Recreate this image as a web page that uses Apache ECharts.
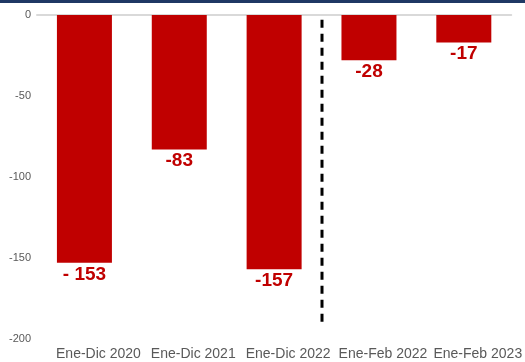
<!DOCTYPE html>
<html>
<head>
<meta charset="utf-8">
<script src="https://cdn.jsdelivr.net/npm/echarts@6/dist/echarts.min.js"></script>
<style>
  html, body { margin: 0; padding: 0; background: #fff; }
  #chart { width: 525px; height: 362px; }
</style>
</head>
<body>
<div id="chart"></div>
<script>
// categorías y valores
const categories = ['Ene-Dic 2020', 'Ene-Dic 2021', 'Ene-Dic 2022', 'Ene-Feb 2022', 'Ene-Feb 2023']
const values = [-153, -83, -157, -28, -17]
const valueLabels = ['- 153', '-83', '-157', '-28', '-17']
const yTicks = { min: -200, max: 0, interval: 50 }

const red = '#C00000'
const chart = echarts.init(document.getElementById('chart'))

chart.setOption({
  animation: false,
  grid: { left: 37, right: 12, top: 15, bottom: 23 },
  xAxis: [
    {
      type: 'category',
      data: categories,
      position: 'bottom',
      axisLine: { show: false, onZero: false },
      axisTick: { show: false },
      axisLabel: {
        interval: 0,
        hideOverlap: false,
        color: '#595959',
        fontSize: 14,
        fontFamily: 'Liberation Sans, Arial',
        margin: 8,
        padding: [0, 0, 0, 28] // etiquetas corridas a la derecha como en el original
      }
    },
    {
      // línea del cero arriba
      type: 'category',
      data: categories,
      position: 'top',
      axisLine: { show: true, onZero: false, lineStyle: { color: '#d9d9d9', width: 2 } },
      axisTick: { show: false },
      axisLabel: { show: false }
    }
  ],
  yAxis: {
    type: 'value',
    min: yTicks.min,
    max: yTicks.max,
    interval: yTicks.interval,
    axisLine: { show: false },
    axisTick: { show: false },
    splitLine: { show: false },
    axisLabel: { color: '#595959', fontSize: 11, fontFamily: 'Liberation Sans, Arial', margin: 6 }
  },
  series: [
    {
      type: 'bar',
      data: values,
      barWidth: 55,
      itemStyle: { color: red },
      label: {
        show: true,
        position: 'bottom',
        distance: 2,
        color: red,
        fontSize: 19,
        fontWeight: 'bold',
        fontFamily: 'Liberation Sans, Arial',
        formatter: p => valueLabels[p.dataIndex]
      }
    }
  ]
})

// línea punteada entre 2022 anual y los periodos Ene-Feb
const x2 = chart.convertToPixel({ xAxisIndex: 0 }, categories[2])
const x3 = chart.convertToPixel({ xAxisIndex: 0 }, categories[3])
const xMid = Math.round((x2 + x3) / 2)
const yTop = chart.convertToPixel({ yAxisIndex: 0 }, -3)
const yBot = chart.convertToPixel({ yAxisIndex: 0 }, -193)

chart.setOption({
  graphic: [
    {
      type: 'rect',
      shape: { x: 0, y: 0, width: 525, height: 3 },
      style: { fill: '#1F3864' }
    },
    {
      type: 'line',
      shape: { x1: xMid, y1: yTop, x2: xMid, y2: yBot },
      style: { stroke: '#000', lineWidth: 3, lineDash: [8, 6] }
    }
  ]
})
</script>
</body>
</html>
